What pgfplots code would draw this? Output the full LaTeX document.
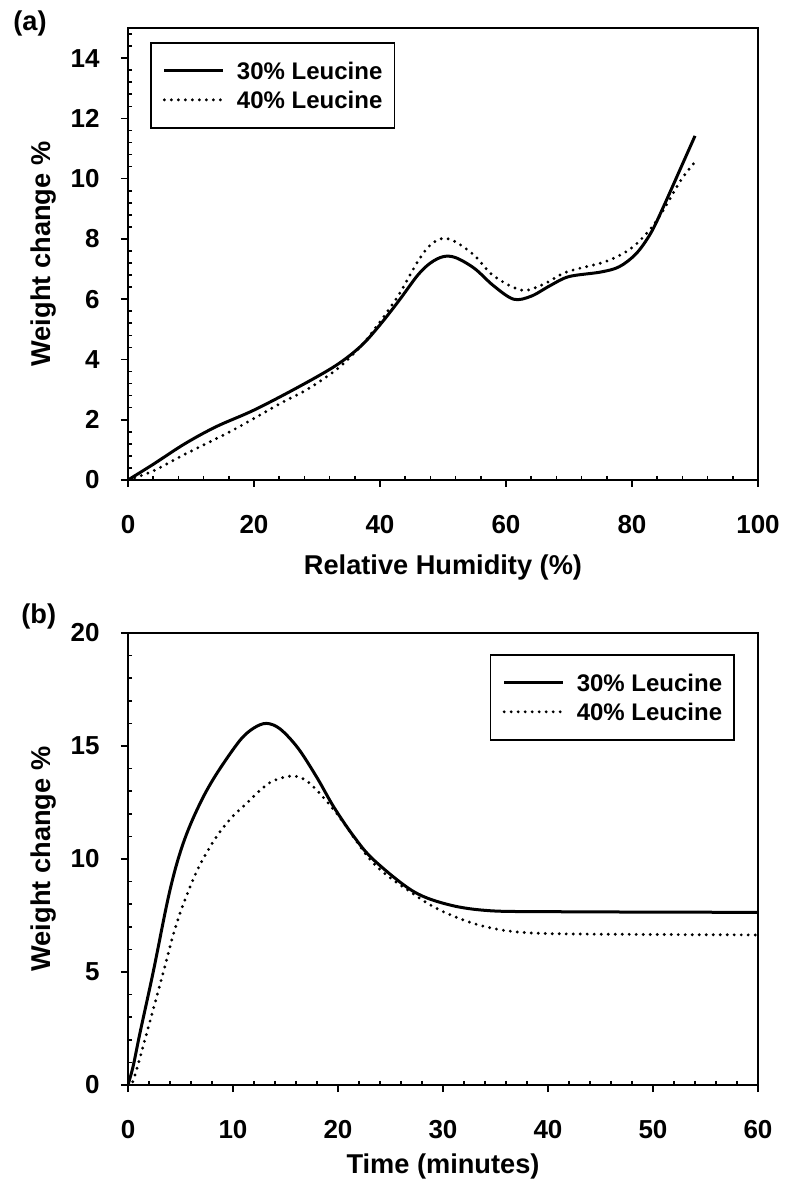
\documentclass[border=0pt]{standalone}
\usepackage{fontspec}
\setmainfont{Liberation Sans}
\usepackage{pgfplots}
\pgfplotsset{compat=1.18}
\newcommand{\bfont}{\fontsize{12}{14}\selectfont\bfseries}
\newcommand{\tfont}{\fontsize{13}{15}\selectfont\bfseries}
\newcommand{\lfont}{\fontsize{13.6}{16}\selectfont\bfseries}
\pgfplotsset{
  myax/.style={
    scale only axis, width=315pt, height=226pt,
    axis line style={line width=0.9pt},
    tick pos=left,
    tick align=outside,
    major tick length=3.5pt,
    minor tick length=-2pt,
    every tick/.style={black, line width=0.8pt},
    tick label style={font=\tfont},
    /pgf/number format/assume math mode=true,
    xticklabel style={anchor=center, yshift=-19pt},
    yticklabel style={anchor=east, inner sep=0pt, xshift=-10.5pt},
    label style={font=\lfont},
    legend cell align=left,
    legend image code/.code={\draw[##1] (0pt,0pt) -- (29.5pt,0pt);},
    legend style={draw=black, line width=0.8pt, font=\bfont,
      inner xsep=6pt, inner ysep=6.75pt, column sep=6pt, row sep=0pt,
      nodes={inner sep=0pt, text height=11.55pt, text depth=2.95pt}},
  },
  solidc/.style={black, line width=1.5pt, smooth, tension=0.55},
  dotc/.style={black, line width=1.6pt, line cap=round, dash pattern=on 0pt off 3.5pt, smooth, tension=0.55},
}
\begin{document}
\begin{tikzpicture}
\path[use as bounding box] (0,0) rectangle (392.5pt,594.5pt);
\node[anchor=west, font=\lfont, inner sep=0pt] at (6.5pt,583pt) {(a)};
\node[anchor=west, font=\lfont, inner sep=0pt] at (10.5pt,286.5pt) {(b)};
\begin{axis}[myax,
  at={(64pt,354.5pt)}, anchor=south west,
  xmin=0, xmax=100, ymin=0, ymax=15,
  xtick={0,20,40,60,80,100}, minor x tick num=4,
  ytick={0,2,4,6,8,10,12,14},
  minor ytick={0.4,0.8,1.2,1.6,2.4,2.8,3.2,3.6,4.4,4.8,5.2,5.6,6.4,6.8,7.2,7.6,8.4,8.8,9.2,9.6,10.4,10.8,11.2,11.6,12.4,12.8,13.2,13.6,14.4,14.8},
  xlabel={Relative Humidity (\%)},
  ylabel={Weight change \%},
  xlabel style={at={(axis description cs:0.5,-0.1925)}, anchor=center},
  ylabel style={at={(axis description cs:-0.1333,0.5)}, anchor=center},
  legend style={at={(axis description cs:0.0349,0.969)}, anchor=north west},
]
\addplot[solidc] coordinates {
(0,0) (4,0.52) (9,1.2) (14,1.77) (20,2.32) (27,3.08) (33,3.8) (37,4.45) (40,5.15) (43,5.95) (46,6.8) (48,7.2) (50,7.41) (52,7.38) (55,7.02) (58,6.45) (61.2,6.0) (64,6.1) (67,6.45) (70,6.75) (75,6.9) (78,7.08) (80.7,7.52) (83,8.2) (85,9.07) (87.6,10.29) (90,11.42)
};
\addlegendentry{30\% Leucine\hspace{5pt}}
\addplot[dotc] coordinates {
(0,0) (4,0.3) (9,0.85) (16.7,1.66) (24.7,2.6) (28,2.95) (33,3.65) (37,4.45) (40,5.25) (43,6.15) (46,7.25) (48,7.8) (50,8.02) (52,7.9) (55,7.45) (58,6.78) (62.5,6.3) (66,6.5) (69.6,6.9) (74.9,7.19) (77.5,7.4) (80.2,7.74) (83,8.35) (85,8.96) (87.6,9.9) (90,10.56)
};
\addlegendentry{40\% Leucine\hspace{5pt}}
\end{axis}
\begin{axis}[myax,
  at={(64pt,52pt)}, anchor=south west,
  xmin=0, xmax=60, ymin=0, ymax=20,
  xtick={0,10,20,30,40,50,60}, minor x tick num=4,
  ytick={0,5,10,15,20}, minor y tick num=4,
  xlabel={Time (minutes)},
  ylabel={Weight change \%},
  xlabel style={at={(axis description cs:0.5,-0.181)}, anchor=center},
  ylabel style={at={(axis description cs:-0.1333,0.5)}, anchor=center},
  legend style={at={(axis description cs:0.9635,0.9535)}, anchor=north east},
]
\addplot[solidc] coordinates {
(0,0) (0.5,0.85) (1.14,2.3) (2.4,5.0) (3.7,8.0) (4.5,9.55) (5.3,10.75) (6.2,11.8) (7.4,12.95) (8.76,14.0) (10.7,15.27) (12,15.8) (13.2,16.0) (14.5,15.75) (16.2,14.9) (18,13.6) (19.6,12.3) (21.5,11.0) (23.4,9.96) (27.2,8.56) (30.7,7.96) (34.5,7.71) (40,7.67) (50,7.65) (60,7.64)
};
\addlegendentry{30\% Leucine\hspace{5pt}}
\addplot[dotc] coordinates {
(0,0) (0.5,0.2) (1.78,2.29) (3.37,5.0) (4.4,6.8) (5.43,8.2) (6.8,9.7) (8.45,11.0) (10,11.9) (11.3,12.46) (12.6,13.05) (13.8,13.45) (15.7,13.67) (17.3,13.35) (19.9,12.0) (23.4,9.8) (27.2,8.45) (29.7,7.74) (32.9,7.15) (36,6.83) (40,6.7) (50,6.66) (60,6.64)
};
\addlegendentry{40\% Leucine\hspace{5pt}}
\end{axis}
\end{tikzpicture}
\end{document}
